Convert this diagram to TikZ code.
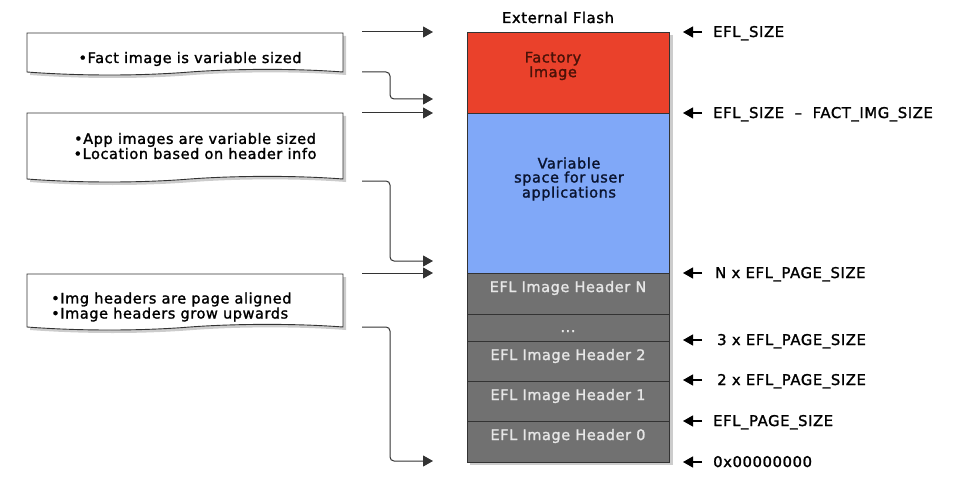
\documentclass[tikz,border=0pt]{standalone}
\usepackage{fontspec}
\setmainfont{DejaVu Sans}[LetterSpace=4, FakeBold=1.5]
\usetikzlibrary{arrows.meta}
\definecolor{factred}{HTML}{EA412B}
\definecolor{appblue}{HTML}{80A8F8}
\definecolor{hdrgray}{HTML}{717171}
\definecolor{linegray}{HTML}{333333}
\definecolor{hdrtext}{HTML}{E6E6E6}
\definecolor{factext}{HTML}{4A1208}
\definecolor{apptext}{HTML}{0A1430}
\tikzset{
  blk/.style={draw=linegray, line width=0.9pt, minimum width=202pt, inner sep=0pt, anchor=north west},
  hdrtxt/.style={text=hdrtext, font=\fontsize{14.5}{14}\selectfont, anchor=base},
  lbl/.style={font=\fontsize{14.8}{14}\selectfont, anchor=base west, inner sep=0pt},
  notetxt/.style={font=\fontsize{14.5}{14}\selectfont, inner sep=0pt},
  notebox/.style={draw=linegray, line width=0.9pt, fill=white},
  noteshadow/.style={fill=black, opacity=0.2},
  conn/.style={draw=linegray, line width=1pt, rounded corners=4pt, -{Triangle[length=10pt,width=11pt]}},
  rarr/.style={draw=black, line width=1.2pt, -{Triangle[length=10pt,width=11pt]}}
}
\begin{document}
\begin{tikzpicture}[x=1pt,y=-1pt]
\useasboundingbox (0,0) rectangle (960,484);
% column shadow
\fill[black, opacity=0.2] (470,35) rectangle (673,465);
% blocks
\node[blk, fill=factred, minimum height=81pt] (fact) at (467,32) {};
\node[blk, fill=appblue, minimum height=160pt] (app) at (467,113) {};
\node[blk, fill=hdrgray, minimum height=41pt] (hN) at (467,273) {};
\node[blk, fill=hdrgray, minimum height=27pt] (hdots) at (467,314) {};
\node[blk, fill=hdrgray, minimum height=40pt] (h2) at (467,341) {};
\node[blk, fill=hdrgray, minimum height=40pt] (h1) at (467,381) {};
\node[blk, fill=hdrgray, minimum height=41pt] (h0) at (467,421) {};
% block texts
\node[font=\fontsize{14.8}{12}\selectfont, anchor=base, text=black] (title) at (558,23) {External Flash};
\node[font=\fontsize{14.5}{12}\selectfont, align=center, text=factext, inner sep=0pt] (facttxt) at (553,66) {Factory\\Image};
\node[font=\fontsize{14.5}{14}\selectfont, align=center, text=apptext, inner sep=0pt] (apptxt) at (569,179) {Variable\\space for user\\applications};
\node[hdrtxt] (tN) at (568,292) {EFL Image Header N};
\node[hdrtxt] (tdots) at (568,332) {...};
\node[hdrtxt] (t2) at (568,360) {EFL Image Header 2};
\node[hdrtxt] (t1) at (568,400) {EFL Image Header 1};
\node[hdrtxt] (t0) at (568,440) {EFL Image Header 0};
% notes
\fill[noteshadow] (30,36) -- (346,36) -- (346,75) .. controls (293,71) and (233,72) .. (193,75) .. controls (143,79) and (83,79) .. (30,75) -- cycle;
\path[notebox] (27,33) -- (343,33) -- (343,72) .. controls (290,68) and (230,69) .. (190,72) .. controls (140,76) and (80,76) .. (27,72) -- cycle;
\node[notetxt] (note1) at (190,59) {•Fact image is variable sized};
\fill[noteshadow] (30,116) -- (346,116) -- (346,182) .. controls (293,178) and (233,179) .. (193,182) .. controls (143,186) and (83,186) .. (30,182) -- cycle;
\path[notebox] (27,113) -- (343,113) -- (343,179) .. controls (290,175) and (230,176) .. (190,179) .. controls (140,183) and (80,183) .. (27,179) -- cycle;
\node[notetxt, align=center] (note2) at (195,146) {•App images are variable sized\\•Location based on header info};
\fill[noteshadow] (30,277) -- (346,277) -- (346,330) .. controls (293,326) and (233,327) .. (193,330) .. controls (143,334) and (83,334) .. (30,330) -- cycle;
\path[notebox] (27,274) -- (343,274) -- (343,327) .. controls (290,323) and (230,324) .. (190,327) .. controls (140,331) and (80,331) .. (27,327) -- cycle;
\node[notetxt, align=left, anchor=west] (note3) at (51,307) {•Img headers are page aligned\\•Image headers grow upwards};
% left connectors
\coordinate (s1) at (362,32);   \coordinate (e1) at (433,32);
\coordinate (s2) at (362,72);   \coordinate (e2) at (433,99);
\coordinate (s3) at (362,113);  \coordinate (e3) at (433,113);
\coordinate (s4) at (362,181);  \coordinate (e4) at (433,261);
\coordinate (s5) at (362,273);  \coordinate (e5) at (433,273);
\coordinate (s6) at (362,327);  \coordinate (e6) at (433,461);
\draw[conn] (s1) -- (e1);
\draw[conn] (s2) -| (390,99) -- (e2);
\draw[conn] (s3) -- (e3);
\draw[conn] (s4) -| (390,261) -- (e4);
\draw[conn] (s5) -- (e5);
\draw[conn] (s6) -| (390,461) -- (e6);
% right labels
\node[lbl] (r1) at (713,37) {EFL\_SIZE};
\node[lbl] (r2) at (713,118) {EFL\_SIZE \ – \ FACT\_IMG\_SIZE};
\node[lbl] (r3) at (715,278) {N x EFL\_PAGE\_SIZE};
\node[lbl] (r4) at (717,345) {3 x EFL\_PAGE\_SIZE};
\node[lbl] (r5) at (717,385) {2 x EFL\_PAGE\_SIZE};
\node[lbl] (r6) at (713,426) {EFL\_PAGE\_SIZE};
\node[lbl] (r7) at (713,467) {0x00000000};
\foreach \i/\y in {1/32,2/113,3/273,4/340,5/380,6/421,7/462}{
  \coordinate (rt\i) at (702,\y);
  \coordinate (rh\i) at (683,\y);
  \draw[rarr] (rt\i) -- (rh\i);
}
\end{tikzpicture}
\end{document}
